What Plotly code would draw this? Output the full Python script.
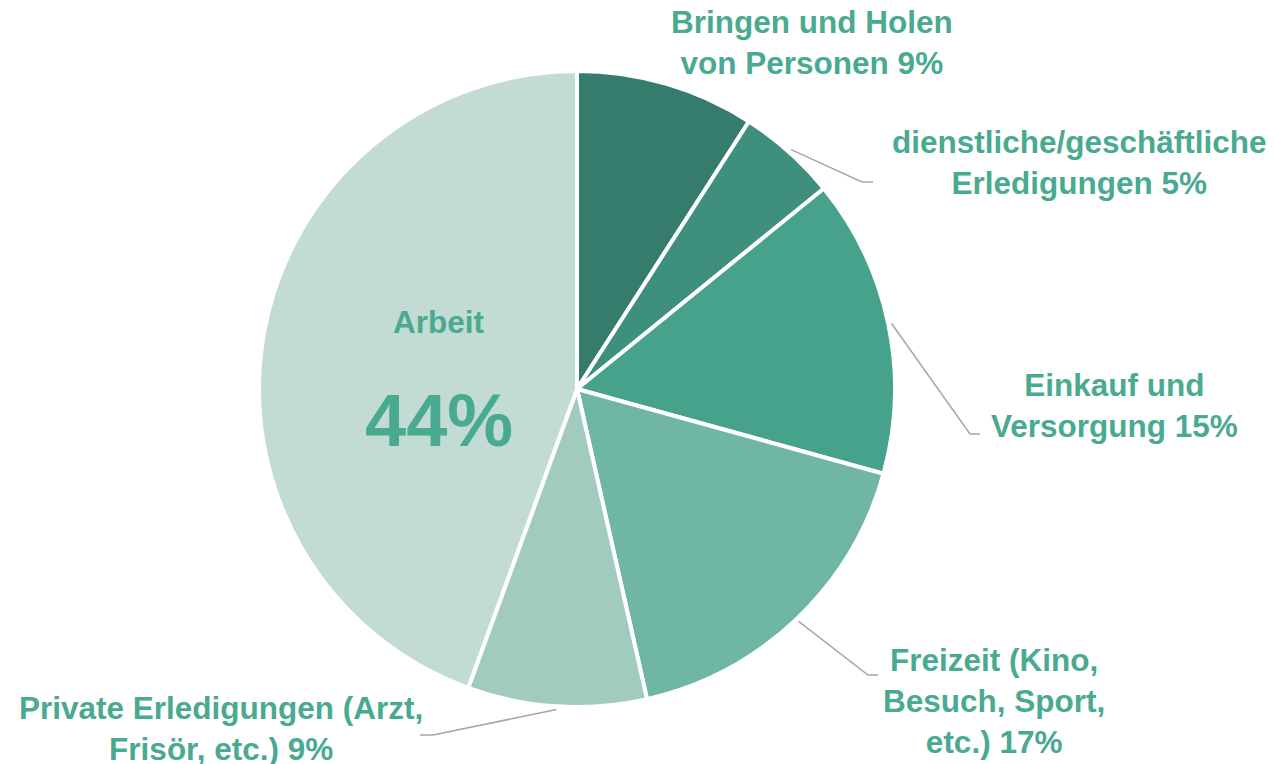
import math
import plotly.graph_objs as go

# data
labels = ['Bringen und Holen von Personen', 'dienstliche/geschäftliche Erledigungen',
          'Einkauf und Versorgung', 'Freizeit (Kino, Besuch, Sport, etc.)',
          'Private Erledigungen (Arzt, Frisör, etc.)', 'Arbeit']
values = [9, 5, 15, 17, 9, 44]
label_text = ['Bringen und Holen<br>von Personen 9%',
              'dienstliche/geschäftliche<br>Erledigungen 5%',
              'Einkauf und<br>Versorgung 15%',
              'Freizeit (Kino,<br>Besuch, Sport,<br>etc.) 17%',
              'Private Erledigungen (Arzt,<br>Frisör, etc.) 9%',
              'Arbeit']
colors = ['#357C6D', '#3E8F7D', '#47A28C', '#6FB6A5', '#A1CBBF', '#C2DCD3']

# the page body has an 8px margin, so the figure is drawn 8px in from the corner
OFF = 8
W, H = 1274 - OFF, 764 - OFF
cx, cy, R = 577, 389, 318
TXT = '#4AAA91'
LINE = '#A6A6A6'
FONT = 'Liberation Sans, Arial, sans-serif'

# label placement (screen pixels): text centre, elbow of leader line, end of leader line
label_pos = [(812, 42), (1079, 162), (1114, 405), (994, 701), (221, 728), None]
elbow = [None, (862, 182), (970, 434), (868, 675), (433, 735), None]
line_end = [None, (873, 182), (980, 434), (878, 675), (420, 735), None]


def px(x):
    return (x - OFF) / W


def py(y):
    return 1 - (y - OFF) / H


trace = go.Pie(labels=labels, values=values, sort=False, direction='clockwise',
               rotation=0, textinfo='none', hoverinfo='label+percent',
               marker=dict(colors=colors, line=dict(color='white', width=4)),
               domain=dict(x=[px(cx - R), px(cx + R)], y=[py(cy + R), py(cy - R)]),
               showlegend=False)

# mid angles of each slice (clockwise from 12 o'clock)
total = sum(values)
mids = []
acc = 0
for v in values:
    mids.append((acc + v / 2) / total * 2 * math.pi)
    acc += v

annotations = []
shapes = []
for i, t in enumerate(label_text):
    if label_pos[i] is None:
        continue
    annotations.append(dict(x=px(label_pos[i][0]), y=py(label_pos[i][1]), xref='paper',
                            yref='paper', text='<b>' + t + '</b>', showarrow=False,
                            align='center', xanchor='center', yanchor='middle',
                            font=dict(size=31.5, color=TXT, family=FONT)))
    if elbow[i] is not None:
        sx = cx + R * 1.01 * math.sin(mids[i])
        sy = cy - R * 1.01 * math.cos(mids[i])
        pts = [(sx, sy), elbow[i], line_end[i]]
        path = 'M ' + ' L '.join('%f,%f' % (px(a), py(b)) for a, b in pts)
        shapes.append(dict(type='path', path=path, xref='paper', yref='paper',
                           line=dict(color=LINE, width=1.5)))

# Arbeit label inside slice
ax = cx + R * 0.44 * math.sin(mids[5])
ay = cy - R * 0.44 * math.cos(mids[5])
annotations.append(dict(x=px(ax), y=py(ay - 43), xref='paper', yref='paper',
                        text='<b>Arbeit</b>', showarrow=False,
                        font=dict(size=31.5, color=TXT, family=FONT)))
annotations.append(dict(x=px(ax), y=py(ay + 56), xref='paper', yref='paper',
                        text='<b>%d%%</b>' % values[5], showarrow=False,
                        font=dict(size=74, color=TXT, family=FONT)))

layout = go.Layout(width=W, height=H, margin=dict(l=0, r=0, t=0, b=0),
                   paper_bgcolor='white', plot_bgcolor='white',
                   annotations=annotations, shapes=shapes)

fig = go.Figure(data=[trace], layout=layout)
fig.write_html('out.html')
